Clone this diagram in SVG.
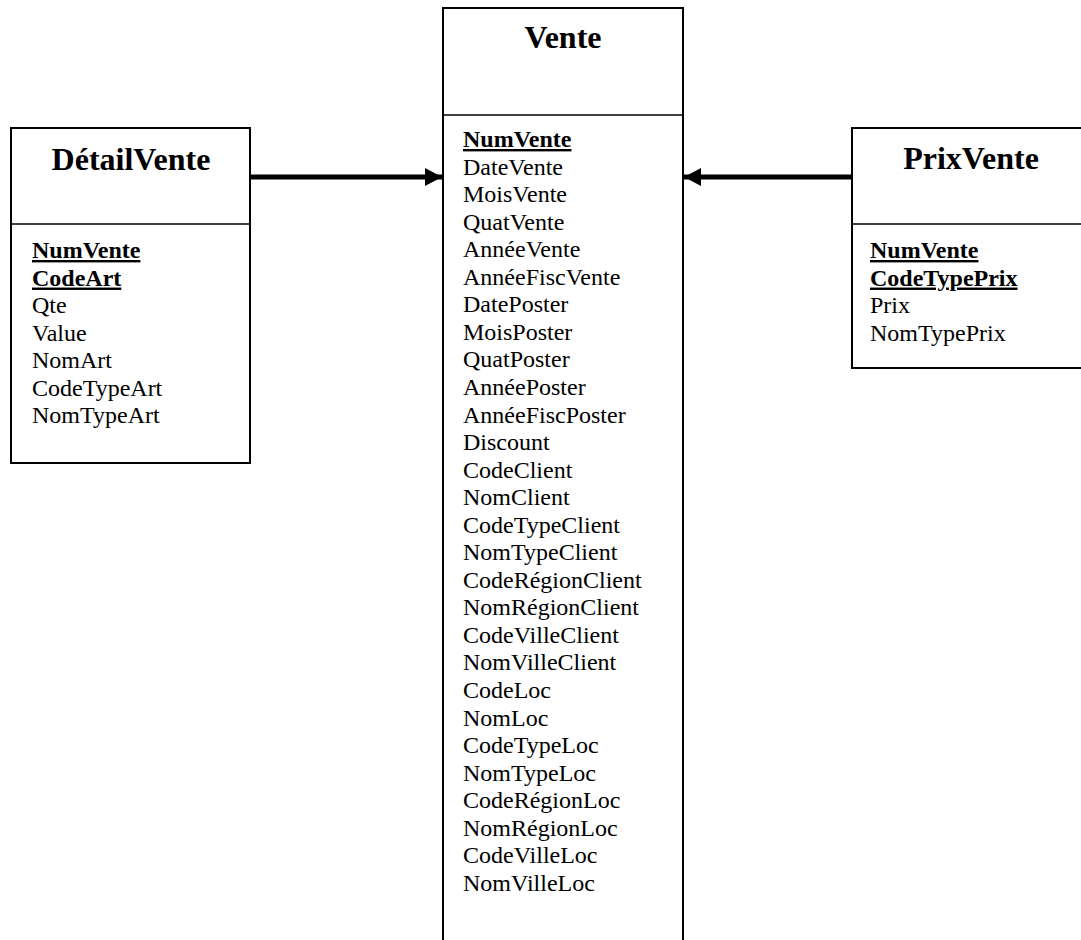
<svg xmlns="http://www.w3.org/2000/svg" width="1081" height="940" viewBox="0 0 1081 940">
  <style>
    .box { fill: #ffffff; stroke: #000000; stroke-width: 2; }
    .sep { stroke: #000000; stroke-width: 1.5; }
    .title { font-family: "Liberation Serif", "Times New Roman", serif; font-size: 32px; font-weight: bold; fill: #000000; text-anchor: middle; }
    .attr { font-family: "Liberation Serif", "Times New Roman", serif; font-size: 24px; fill: #000000; }
    .key { font-weight: bold; text-decoration: underline; }
    .link { stroke: #000000; stroke-width: 5; fill: none; }
  </style>
  <defs>
    <marker id="head" markerUnits="userSpaceOnUse" markerWidth="18" markerHeight="18" refX="17" refY="9" orient="auto">
      <path d="M0,0 L17,9 L0,18 Z" fill="#000000"/>
    </marker>
  </defs>

  <rect width="1081" height="940" fill="#ffffff"/>

  <!-- Fact table: Vente -->
  <g id="vente">
    <rect class="box" x="443" y="8" width="240" height="950"/>
    <line class="sep" x1="443" y1="115" x2="683" y2="115"/>
    <text class="title" x="563" y="48">Vente</text>
    <text class="attr" x="463" y="147">
      <tspan x="463" class="key">NumVente</tspan>
      <tspan x="463" dy="27.55">DateVente</tspan>
      <tspan x="463" dy="27.55">MoisVente</tspan>
      <tspan x="463" dy="27.55">QuatVente</tspan>
      <tspan x="463" dy="27.55">AnnéeVente</tspan>
      <tspan x="463" dy="27.55">AnnéeFiscVente</tspan>
      <tspan x="463" dy="27.55">DatePoster</tspan>
      <tspan x="463" dy="27.55">MoisPoster</tspan>
      <tspan x="463" dy="27.55">QuatPoster</tspan>
      <tspan x="463" dy="27.55">AnnéePoster</tspan>
      <tspan x="463" dy="27.55">AnnéeFiscPoster</tspan>
      <tspan x="463" dy="27.55">Discount</tspan>
      <tspan x="463" dy="27.55">CodeClient</tspan>
      <tspan x="463" dy="27.55">NomClient</tspan>
      <tspan x="463" dy="27.55">CodeTypeClient</tspan>
      <tspan x="463" dy="27.55">NomTypeClient</tspan>
      <tspan x="463" dy="27.55">CodeRégionClient</tspan>
      <tspan x="463" dy="27.55">NomRégionClient</tspan>
      <tspan x="463" dy="27.55">CodeVilleClient</tspan>
      <tspan x="463" dy="27.55">NomVilleClient</tspan>
      <tspan x="463" dy="27.55">CodeLoc</tspan>
      <tspan x="463" dy="27.55">NomLoc</tspan>
      <tspan x="463" dy="27.55">CodeTypeLoc</tspan>
      <tspan x="463" dy="27.55">NomTypeLoc</tspan>
      <tspan x="463" dy="27.55">CodeRégionLoc</tspan>
      <tspan x="463" dy="27.55">NomRégionLoc</tspan>
      <tspan x="463" dy="27.55">CodeVilleLoc</tspan>
      <tspan x="463" dy="27.55">NomVilleLoc</tspan>
    </text>
  </g>

  <!-- Dimension: DétailVente -->
  <g id="detailvente">
    <rect class="box" x="11" y="128" width="239" height="335"/>
    <line class="sep" x1="11" y1="224" x2="250" y2="224"/>
    <text class="title" x="131" y="170">DétailVente</text>
    <text class="attr" x="32" y="258">
      <tspan x="32" class="key">NumVente</tspan>
      <tspan x="32" dy="27.55" class="key">CodeArt</tspan>
      <tspan x="32" dy="27.55">Qte</tspan>
      <tspan x="32" dy="27.55">Value</tspan>
      <tspan x="32" dy="27.55">NomArt</tspan>
      <tspan x="32" dy="27.55">CodeTypeArt</tspan>
      <tspan x="32" dy="27.55">NomTypeArt</tspan>
    </text>
  </g>

  <!-- Dimension: PrixVente -->
  <g id="prixvente">
    <rect class="box" x="852" y="128" width="240" height="240"/>
    <line class="sep" x1="852" y1="224" x2="1092" y2="224"/>
    <text class="title" x="971" y="169">PrixVente</text>
    <text class="attr" x="870" y="258">
      <tspan x="870" class="key">NumVente</tspan>
      <tspan x="870" dy="27.55" class="key">CodeTypePrix</tspan>
      <tspan x="870" dy="27.55">Prix</tspan>
      <tspan x="870" dy="27.55">NomTypePrix</tspan>
    </text>
  </g>

  <!-- Links towards the fact table -->
  <g id="connectors">
    <line class="link" x1="251" y1="177" x2="442" y2="177" marker-end="url(#head)"/>
    <line class="link" x1="851" y1="177" x2="684" y2="177" marker-end="url(#head)"/>
  </g>
</svg>
